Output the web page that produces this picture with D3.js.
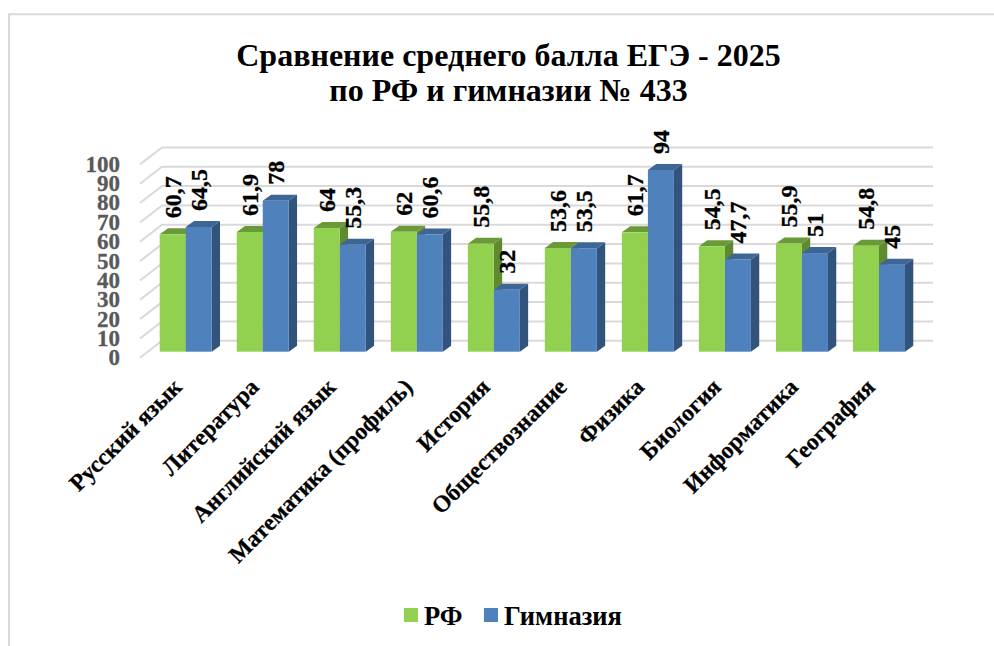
<!DOCTYPE html>
<html>
<head>
<meta charset="utf-8">
<title>ЕГЭ 2025</title>
<script src="https://cdn.jsdelivr.net/npm/d3@7"></script>
<style>
  html, body { margin: 0; padding: 0; background: #fff; }
  svg { display: block; font-family: "Liberation Serif", serif; font-weight: bold; }
</style>
</head>
<body>
<svg id="viz" width="994" height="646"></svg>
<script>
// data
const subjects = ["Русский язык", "Литература", "Английский язык", "Математика (профиль)", "История",
  "Обществознание", "Физика", "Биология", "Информатика", "География"];
const rfValues = [60.7, 61.9, 64, 62, 55.8, 53.6, 61.7, 54.5, 55.9, 54.8];
const gymValues = [64.5, 78, 55.3, 60.6, 32, 53.5, 94, 47.7, 51, 45];
const seriesNames = ["РФ", "Гимназия"];
const yTicks = d3.range(0, 101, 10);
const titleLines = ["Сравнение среднего балла ЕГЭ - 2025", "по РФ и гимназии № 433"];

const svg = d3.select("#viz");
const frame = { x: 9, y: 14.3, right: 994 };

// colours: front, top, side for each series
const colors = {
  "РФ": { front: "#92d050", top: "#6a9a38", side: "#5f8a30" },
  "Гимназия": { front: "#4f81bd", top: "#3d6595", side: "#31537c" }
};

// 3d offsets (pixels)
const wall = { dx: 22, dy: -17 };   // front of floor -> back wall
const barDepth = { dx: 8.3, dy: -6 };

const y = d3.scaleLinear().domain([0, 100]).range([357.8, 164.4]);
const yBar = d3.scaleLinear().domain([0, 100]).range([351.7, 158.3]);
const x0 = d3.scaleBand().domain(subjects).range([147.2, 917.5]).paddingInner(25 / 77).paddingOuter(12.5 / 77);
const x1 = d3.scaleBand().domain(seriesNames).range([0, x0.bandwidth()]);

// frame
svg.append("path")
  .attr("d", `M${frame.x},646V${frame.y}H${frame.right}`)
  .attr("fill", "none").attr("stroke", "#d9d9d9").attr("stroke-width", 2);

// title
const title = svg.append("text").attr("text-anchor", "middle").attr("fill", "#000").attr("font-size", 32);
titleLines.forEach((t, i) => {
  title.append("tspan").attr("x", 508.5).attr("y", 66 + i * 35).text(t);
});

// gridlines: slanted piece on side wall + back wall line
const grid = svg.append("g").attr("fill", "none").attr("stroke", "#d9d9d9").attr("stroke-width", 2);
yTicks.forEach(v => {
  const yy = y(v);
  grid.append("path").attr("d", `M140,${yy}L${140 + wall.dx},${yy + wall.dy}H933`);
});

// y axis labels
const yAxis = d3.axisLeft(y).tickValues(yTicks).tickSize(0).tickPadding(0);
const yG = svg.append("g").attr("transform", "translate(120,0)").call(yAxis);
yG.select(".domain").remove();
yG.selectAll("text")
  .attr("font-family", "Liberation Serif")
  .attr("font-weight", "bold")
  .attr("font-size", 23)
  .attr("fill", "#595959")
  .attr("stroke", "#595959")
  .attr("stroke-width", 0.3)
  .attr("dy", "0.3em");

// bars
const bars = svg.append("g");
subjects.forEach((s, i) => {
  const rows = [
    { name: seriesNames[0], value: rfValues[i] },
    { name: seriesNames[1], value: gymValues[i] }
  ];
  rows.forEach(r => {
    const c = colors[r.name];
    const xl = x0(s) + x1(r.name);
    const xr = xl + x1.bandwidth();
    const yt = yBar(r.value);
    const yb = yBar(0);
    const g = bars.append("g");
    g.append("path").attr("fill", c.side)
      .attr("d", `M${xr},${yt}L${xr + barDepth.dx},${yt + barDepth.dy}V${yb + barDepth.dy}L${xr},${yb}Z`);
    g.append("path").attr("fill", c.top)
      .attr("d", `M${xl},${yt}L${xl + barDepth.dx},${yt + barDepth.dy}H${xr + barDepth.dx}L${xr},${yt}Z`);
    g.append("rect").attr("x", xl).attr("y", yt).attr("width", x1.bandwidth()).attr("height", yb - yt)
      .attr("fill", c.front);
  });
});

// value labels, vertical (thin stroke: the original is heavier than the plain bold face)
const labels = svg.append("g").attr("fill", "#000").attr("stroke", "#000").attr("stroke-width", 0.3).attr("font-size", 24);
subjects.forEach((s, i) => {
  [[seriesNames[0], rfValues[i]], [seriesNames[1], gymValues[i]]].forEach(([name, v]) => {
    const cx = x0(s) + x1(name) + x1.bandwidth() / 2 + 0.5;
    const by = yBar(v) - 16;
    labels.append("text")
      .attr("transform", `translate(${cx},${by}) rotate(-90)`)
      .attr("dy", "0.33em")
      .text(String(v).replace(".", ","));
  });
});

// category labels at 45 degrees
const cats = svg.append("g").attr("fill", "#000").attr("stroke", "#000").attr("stroke-width", 0.25).attr("font-size", 23.6);
subjects.forEach(s => {
  const cx = x0(s) + x0.bandwidth() / 2 - 8;
  cats.append("text")
    .attr("transform", `translate(${cx},383) rotate(-45)`)
    .attr("text-anchor", "end")
    .attr("dy", "0.32em")
    .text(s);
});

// legend
const legendItems = [{ name: seriesNames[0], x: 404, tx: 424 }, { name: seriesNames[1], x: 484, tx: 504 }];
const legend = svg.append("g");
legendItems.forEach(d => {
  legend.append("rect").attr("x", d.x).attr("y", 608).attr("width", 14).attr("height", 14).attr("fill", colors[d.name].front);
  legend.append("text").attr("x", d.tx).attr("y", 624.5).attr("font-size", 26.5).attr("fill", "#000").text(d.name);
});
</script>
</body>
</html>
